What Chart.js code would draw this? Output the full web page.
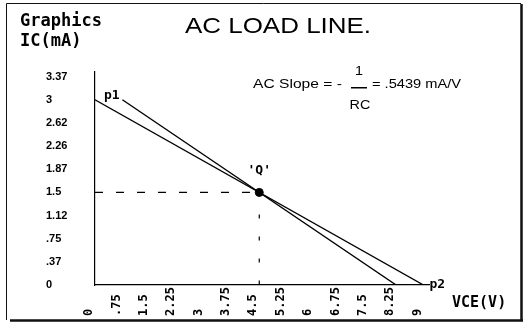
<!DOCTYPE html>
<html>
<head>
<meta charset="utf-8">
<script src="https://cdn.jsdelivr.net/npm/chart.js@4"></script>
<style>
  html, body { margin: 0; padding: 0; background: #fff; }
  canvas { display: block; }
</style>
</head>
<body>
<canvas id="loadLine" width="524" height="325"></canvas>
<script>
// axis ticks
var vceTicks = [0, 0.75, 1.5, 2.25, 3, 3.75, 4.5, 5.25, 6, 6.75, 7.5, 8.25, 9];
var vceLabels = ['0', '.75', '1.5', '2.25', '3', '3.75', '4.5', '5.25', '6', '6.75', '7.5', '8.25', '9'];
var icTicks = [0, 0.375, 0.75, 1.125, 1.5, 1.875, 2.25, 2.625, 3, 3.375];
var icLabels = ['0', '.37', '.75', '1.12', '1.5', '1.87', '2.26', '2.62', '3', '3.37'];

// load lines (VCE in V, IC in mA)
var acLineVce = [0, 9];
var acLineIc = [3, 0];
var dcLineVce = [0.75, 8.25];
var dcLineIc = [3, 0];

// operating point
var qVce = 4.5;
var qIc = 1.5;

function toPoints(xs, ys) {
  return xs.map(function(x, i) { return { x: x, y: ys[i] }; });
}

function stretchText(ctx, text, x, y, sx, align) {
  ctx.save();
  ctx.translate(x, y);
  ctx.scale(sx, 1);
  ctx.textAlign = align;
  ctx.fillText(text, 0, 0);
  ctx.restore();
}

// frame around the whole picture
var framePlugin = {
  id: 'frame',
  beforeDraw: function(chart) {
    var ctx = chart.ctx;
    ctx.save();
    ctx.fillStyle = '#fff';
    ctx.fillRect(0, 0, chart.width, chart.height);
    ctx.strokeStyle = '#111';
    ctx.lineWidth = 1;
    ctx.beginPath();
    ctx.moveTo(6.5, 320);
    ctx.lineTo(6.5, 3.5);
    ctx.lineTo(521, 3.5);
    ctx.stroke();
    ctx.lineWidth = 2.5;
    ctx.beginPath();
    ctx.moveTo(521.5, 4);
    ctx.lineTo(521.5, 321);
    ctx.moveTo(10, 320.5);
    ctx.lineTo(523, 320.5);
    ctx.stroke();
    ctx.restore();
  }
};

// titles and point labels
var labelPlugin = {
  id: 'labels',
  afterDatasetsDraw: function(chart) {
    var ctx = chart.ctx;
    var xs = chart.scales.x, ys = chart.scales.y;
    ctx.save();
    ctx.fillStyle = '#000';
    ctx.textBaseline = 'alphabetic';

    ctx.font = 'bold 17px "DejaVu Sans Mono"';
    ctx.textAlign = 'left';
    ctx.fillText('Graphics', 20, 26);
    ctx.fillText('IC(mA)', 20, 46);

    ctx.font = '22px "Liberation Sans"';
    stretchText(ctx, 'AC LOAD LINE.', 278, 33, 1.18, 'center');

    ctx.font = '12px "Liberation Sans"';
    stretchText(ctx, 'AC Slope = -', 253, 88, 1.3, 'left');
    stretchText(ctx, '1', 359, 75, 1.2, 'center');
    stretchText(ctx, 'RC', 360, 109, 1.2, 'center');
    stretchText(ctx, '= .5439 mA/V', 372, 88, 1.22, 'left');
    ctx.fillRect(351, 87, 16, 1.5);

    ctx.font = 'bold 13px "DejaVu Sans Mono"';
    ctx.textAlign = 'left';
    ctx.fillText('p1', xs.getPixelForValue(acLineVce[0]) + 9, ys.getPixelForValue(acLineIc[0]) - 1);
    ctx.fillText('p2', xs.getPixelForValue(acLineVce[1]) + 6, ys.getPixelForValue(acLineIc[1]) + 3);
    ctx.textAlign = 'center';
    ctx.fillText("'Q'", xs.getPixelForValue(qVce), ys.getPixelForValue(qIc) - 18);

    ctx.font = 'bold 15px "DejaVu Sans Mono"';
    ctx.textAlign = 'left';
    ctx.fillText('VCE(V)', 452, 307);
    ctx.restore();
  }
};

var lineStyle = { showLine: true, borderColor: '#000', borderWidth: 1.4, pointRadius: 0, fill: false };

new Chart(document.getElementById('loadLine').getContext('2d'), {
  type: 'scatter',
  data: {
    datasets: [
      Object.assign({ label: 'AC load line', data: toPoints(acLineVce, acLineIc) }, lineStyle),
      Object.assign({ label: 'DC load line', data: toPoints(dcLineVce, dcLineIc) }, lineStyle),
      { label: 'IC at Q', data: toPoints([0, qVce], [qIc, qIc]), showLine: true, borderColor: '#000',
        borderWidth: 1.2, borderDash: [8, 13], pointRadius: 0 },
      { label: 'VCE at Q', data: toPoints([qVce, qVce], [qIc, 0]), showLine: true, borderColor: '#000',
        borderWidth: 1.2, borderDash: [4, 18], pointRadius: 0 },
      { label: 'Q', data: toPoints([qVce], [qIc]), pointRadius: 4, pointBackgroundColor: '#000',
        pointBorderColor: '#000' }
    ]
  },
  options: {
    responsive: false,
    animation: false,
    layout: { padding: { left: 46, top: 72, right: 95, bottom: 0 } },
    plugins: {
      legend: { display: false },
      tooltip: { enabled: false }
    },
    scales: {
      x: {
        type: 'linear',
        min: 0,
        max: 9.15,
        afterFit: function(s) { s.height = 40; },
        afterBuildTicks: function(s) { s.ticks = vceTicks.map(function(v) { return { value: v }; }); },
        grid: { drawOnChartArea: false, drawTicks: false },
        border: { display: true, color: '#000', width: 1.2 },
        ticks: {
          autoSkip: false,
          minRotation: 90,
          maxRotation: 90,
          padding: 2,
          labelOffset: -6,
          color: '#000',
          font: { family: 'DejaVu Sans Mono', size: 12, weight: 'bold' },
          callback: function(v) {
            var s = vceLabels[vceTicks.indexOf(v)] || '';
            while (s.length < 4) s += ' ';
            return s;
          }
        }
      },
      y: {
        type: 'linear',
        min: 0,
        max: 3.45,
        afterFit: function(s) { s.width = 49; },
        afterBuildTicks: function(s) { s.ticks = icTicks.map(function(v) { return { value: v }; }); },
        grid: { drawOnChartArea: false, drawTicks: false },
        border: { display: true, color: '#000', width: 1.2 },
        ticks: {
          crossAlign: 'far',
          color: '#000',
          font: { family: 'Liberation Sans', size: 11, weight: 'bold' },
          callback: function(v) { return icLabels[icTicks.indexOf(v)] || ''; }
        }
      }
    }
  },
  plugins: [framePlugin, labelPlugin]
});
</script>
</body>
</html>
